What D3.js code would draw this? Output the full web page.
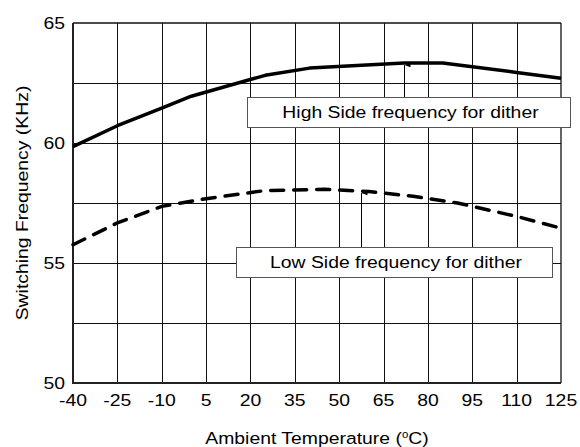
<!DOCTYPE html>
<html>
<head>
<meta charset="utf-8">
<script src="https://d3js.org/d3.v7.min.js"></script>
<style>
  body { margin: 0; background: #fff; }
  text { font-family: "Liberation Sans", Arial, sans-serif; fill: #000; }
</style>
</head>
<body>
<div id="chart"></div>
<script>
// data
var xTicks = [-40, -25, -10, 5, 20, 35, 50, 65, 80, 95, 110, 125];
var yTicks = [50, 55, 60, 65];
var yGrid = [52.5, 55, 57.5, 60, 62.5];

var highTemp = [-40, -25, -10, 0, 25, 40, 72, 85, 110, 125];
var highFreq = [59.85, 60.72, 61.45, 61.95, 62.82, 63.12, 63.33, 63.33, 62.94, 62.7];

var lowTemp = [-40, -25, -10, 5, 25, 45, 60, 75, 90, 100, 110, 125];
var lowFreq = [55.76, 56.67, 57.36, 57.68, 58.02, 58.07, 57.98, 57.78, 57.5, 57.22, 56.94, 56.45];

var labels = [
  {text: "High Side frequency for dither", temp: 72, freq: 63.33, box: [247, 97, 570, 127]},
  {text: "Low Side frequency for dither", temp: 57.3, freq: 58.0, box: [236, 247, 552, 277]}
];

var width = 580, height = 447;
var margin = {top: 23, right: 19, bottom: 64, left: 73};
var stretch = 1.14;   // source text is a bit wider than Arial

var svg = d3.select("#chart")
  .append("svg")
    .attr("width", width)
    .attr("height", height);

var x = d3.scaleLinear()
    .domain([-40, 125])
    .range([margin.left, width - margin.right]);

var y = d3.scaleLinear()
    .domain([50, 65])
    .range([height - margin.bottom, margin.top]);

function place(px, py) {
  return "translate(" + px + "," + py + ") scale(" + stretch + ",1)";
}

// grid
svg.append("g")
  .selectAll("line")
  .data(xTicks.slice(1, -1))
  .enter()
  .append("line")
    .attr("x1", function(d) { return Math.round(x(d)) + 0.5; })
    .attr("x2", function(d) { return Math.round(x(d)) + 0.5; })
    .attr("y1", y(50))
    .attr("y2", y(65))
    .attr("stroke", "#111")
    .attr("stroke-width", 1);

svg.append("g")
  .selectAll("line")
  .data(yGrid)
  .enter()
  .append("line")
    .attr("x1", x(-40))
    .attr("x2", x(125))
    .attr("y1", function(d) { return Math.round(y(d)) + 0.5; })
    .attr("y2", function(d) { return Math.round(y(d)) + 0.5; })
    .attr("stroke", "#111")
    .attr("stroke-width", 1);

// frame: top/right thin, left/bottom heavier
svg.append("line")
  .attr("x1", x(-40)).attr("x2", x(125))
  .attr("y1", y(65)).attr("y2", y(65))
  .attr("stroke", "#111").attr("stroke-width", 1.3);
svg.append("line")
  .attr("x1", x(125)).attr("x2", x(125))
  .attr("y1", y(65)).attr("y2", y(50))
  .attr("stroke", "#111").attr("stroke-width", 1.3);
svg.append("line")
  .attr("x1", x(-40)).attr("x2", x(-40))
  .attr("y1", y(65)).attr("y2", y(50) + 1)
  .attr("stroke", "#222").attr("stroke-width", 2);
svg.append("line")
  .attr("x1", x(-40) - 1).attr("x2", x(125))
  .attr("y1", y(50)).attr("y2", y(50))
  .attr("stroke", "#222").attr("stroke-width", 2);

// tick labels
svg.append("g")
  .selectAll("text")
  .data(xTicks)
  .enter()
  .append("text")
    .attr("transform", function(d) { return place(x(d), y(50) + 23); })
    .attr("text-anchor", "middle")
    .style("font-size", "17px")
    .text(function(d) { return d; });

svg.append("g")
  .selectAll("text")
  .data(yTicks)
  .enter()
  .append("text")
    .attr("transform", function(d) { return place(x(-40) - 8, y(d) + 6); })
    .attr("text-anchor", "end")
    .style("font-size", "17px")
    .text(function(d) { return d; });

// axis titles
var xt = svg.append("text")
  .attr("transform", place((x(-40) + x(125)) / 2, 444))
  .attr("text-anchor", "middle")
  .style("font-size", "17px");
xt.append("tspan").text("Ambient Temperature (");
xt.append("tspan").attr("dy", -6).style("font-size", "10px").text("o");
xt.append("tspan").attr("dy", 6).text("C)");

svg.append("text")
  .attr("transform", "translate(28," + ((y(50) + y(65)) / 2) + ") rotate(-90) scale(" + stretch + ",1)")
  .attr("text-anchor", "middle")
  .style("font-size", "17px")
  .text("Switching Frequency (KHz)");

// curves
var line = d3.line()
  .x(function(d) { return x(d[0]); })
  .y(function(d) { return y(d[1]); });

svg.append("path")
  .datum(d3.zip(highTemp, highFreq))
  .attr("d", line)
  .attr("fill", "none")
  .attr("stroke", "#000")
  .attr("stroke-width", 3.5)
  .attr("stroke-linejoin", "round");

svg.append("path")
  .datum(d3.zip(lowTemp, lowFreq))
  .attr("d", line)
  .attr("fill", "none")
  .attr("stroke", "#000")
  .attr("stroke-width", 3.5)
  .attr("stroke-dasharray", "13,10")
  .attr("stroke-linecap", "round");

// callouts with arrows
svg.append("defs").append("marker")
  .attr("id", "head")
  .attr("viewBox", "0 0 6 8")
  .attr("refX", 3)
  .attr("refY", 0)
  .attr("markerWidth", 5)
  .attr("markerHeight", 6)
  .attr("markerUnits", "userSpaceOnUse")
  .attr("orient", "auto-start-reverse")
  .append("path")
    .attr("d", "M0,8 L3,0 L6,8 Z")
    .attr("fill", "#000");

labels.forEach(function(l) {
  var b = l.box;
  svg.append("rect")
    .attr("x", b[0] + 0.5)
    .attr("y", b[1] + 0.5)
    .attr("width", b[2] - b[0])
    .attr("height", b[3] - b[1])
    .attr("fill", "#fff")
    .attr("stroke", "#555")
    .attr("stroke-width", 1);
  svg.append("line")
    .attr("x1", Math.round(x(l.temp)) + 0.5)
    .attr("x2", Math.round(x(l.temp)) + 0.5)
    .attr("y1", b[1])
    .attr("y2", y(l.freq) + 2)
    .attr("stroke", "#000")
    .attr("stroke-width", 1)
    .attr("marker-end", "url(#head)");
  svg.append("text")
    .attr("transform", place((b[0] + b[2]) / 2 + 2, (b[1] + b[3]) / 2 + 6))
    .attr("text-anchor", "middle")
    .style("font-size", "17px")
    .text(l.text);
});
</script>
</body>
</html>
